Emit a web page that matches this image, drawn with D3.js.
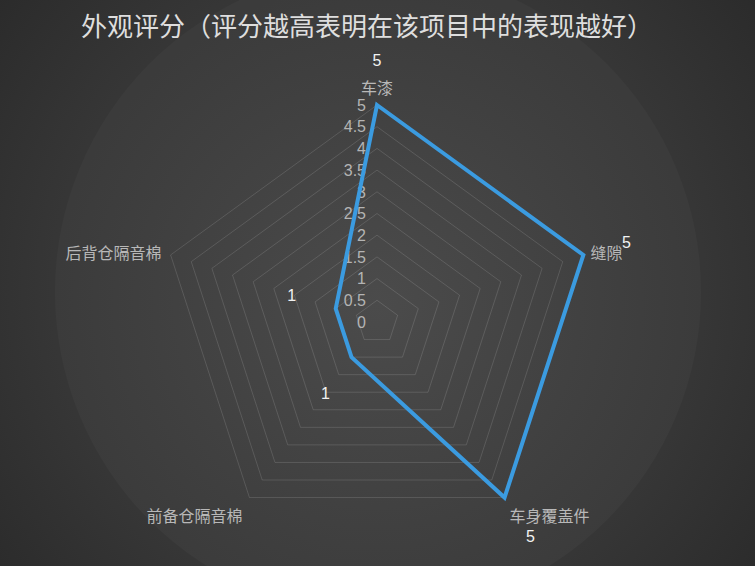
<!DOCTYPE html>
<html>
<head>
<meta charset="utf-8">
<script src="https://cdn.jsdelivr.net/npm/d3@7"></script>
<style>
    body { margin: 0; background: #2c2c2c; }
    svg { display: block; }
</style>
</head>
<body>
<div id="radar-plot"></div>
<script>
// chart data
const categories = ["车漆", "缝隙", "车身覆盖件", "前备仓隔音棉", "后背仓隔音棉"];
const scores = [5, 5, 5, 1, 1];
const tickValues = [0, 0.5, 1, 1.5, 2, 2.5, 3, 3.5, 4, 4.5, 5];
const tickLabels = ["0", "0.5", "1", "1.5", "2", "2.5", "3", "3.5", "4", "4.5", "5"];
const chartTitle = "外观评分（评分越高表明在该项目中的表现越好）";

// layout
const width = 755, height = 566;
const center = { x: 377, y: 322 };
const radius = 217;

// label placement per axis: [dx, dy, anchor] for category name and for the value
const nameOffsets = [[0, -17, "middle"], [7, -2, "start"], [5, 19, "start"], [-7, 19, "end"], [-9, -2, "end"]];
const valueOffsets = [[0, -45], [43, -13], [26, 39], [-26, 36], [-44, -13]];

let svg = d3.select("#radar-plot")
    .append("svg")
    .attr("width", width)
    .attr("height", height);

// background gradients
let defs = svg.append("defs");
let bgGrad = defs.append("radialGradient")
    .attr("id", "bg-grad")
    .attr("gradientUnits", "userSpaceOnUse")
    .attr("cx", 378).attr("cy", 290).attr("r", 480);
bgGrad.append("stop").attr("offset", "0%").attr("stop-color", "#3e3e3e");
bgGrad.append("stop").attr("offset", "68%").attr("stop-color", "#363636");
bgGrad.append("stop").attr("offset", "100%").attr("stop-color", "#2b2b2b");

let discGrad = defs.append("radialGradient")
    .attr("id", "disc-grad")
    .attr("gradientUnits", "userSpaceOnUse")
    .attr("cx", 378).attr("cy", 305).attr("r", 323);
discGrad.append("stop").attr("offset", "0%").attr("stop-color", "#4b4b4b");
discGrad.append("stop").attr("offset", "100%").attr("stop-color", "#3b3b3b");

svg.append("rect")
    .attr("width", width)
    .attr("height", height)
    .attr("fill", "url(#bg-grad)");

svg.append("circle")
    .attr("cx", 378)
    .attr("cy", 292)
    .attr("r", 323)
    .attr("fill", "url(#disc-grad)");

let g = svg.append("g")
    .attr("transform", `translate(${center.x}, ${center.y})`);

// scales: value -> radius, category -> angle
let rScale = d3.scaleLinear()
    .domain([0, 5])
    .range([0, radius]);

let angle = d3.scalePoint()
    .domain(categories)
    .range([0, 2 * Math.PI * (categories.length - 1) / categories.length]);

function point(cat, value) {
    let a = angle(cat) - Math.PI / 2;
    return [rScale(value) * Math.cos(a), rScale(value) * Math.sin(a)];
}

// grid pentagons
let gridLine = d3.line().curve(d3.curveLinearClosed);
g.selectAll(".grid")
    .data(tickValues.filter(v => v > 0))
    .enter()
    .append("path")
    .attr("class", "grid")
    .attr("d", v => gridLine(categories.map(c => point(c, v))))
    .attr("fill", "none")
    .attr("stroke", "rgba(255,255,255,0.13)")
    .attr("stroke-width", 1);

// tick labels along the first axis
g.selectAll(".tick-label")
    .data(tickValues)
    .enter()
    .append("text")
    .attr("class", "tick-label")
    .attr("x", -11)
    .attr("y", v => -rScale(v))
    .attr("dy", "0.36em")
    .style("text-anchor", "end")
    .style("font-family", "Liberation Sans, Arial, sans-serif")
    .style("font-size", "16px")
    .attr("fill", "#b4b4b4")
    .text((v, i) => tickLabels[i]);

// data polygon
g.append("path")
    .attr("d", gridLine(categories.map((c, i) => point(c, scores[i]))))
    .attr("fill", "none")
    .attr("stroke", "#3b9be0")
    .attr("stroke-width", 4)
    .attr("stroke-linejoin", "miter");

// category names
g.selectAll(".cat-label")
    .data(categories)
    .enter()
    .append("text")
    .attr("class", "cat-label")
    .attr("x", (c, i) => point(c, 5)[0] + nameOffsets[i][0])
    .attr("y", (c, i) => point(c, 5)[1] + nameOffsets[i][1])
    .attr("dy", "0.36em")
    .style("text-anchor", (c, i) => nameOffsets[i][2])
    .style("font-family", "Noto Sans CJK SC, sans-serif")
    .style("font-size", "16px")
    .attr("fill", "#b8b8b8")
    .text(c => c);

// value labels
g.selectAll(".value-label")
    .data(categories)
    .enter()
    .append("text")
    .attr("class", "value-label")
    .attr("x", (c, i) => point(c, scores[i])[0] + valueOffsets[i][0])
    .attr("y", (c, i) => point(c, scores[i])[1] + valueOffsets[i][1])
    .attr("dy", "0.36em")
    .style("text-anchor", "middle")
    .style("font-family", "Liberation Sans, Arial, sans-serif")
    .style("font-size", "16px")
    .attr("fill", "#f2f2f2")
    .text((c, i) => scores[i]);

// chart title
svg.append("text")
    .attr("x", 367)
    .attr("y", 27)
    .attr("dy", "0.36em")
    .style("text-anchor", "middle")
    .style("font-family", "Noto Sans CJK SC, sans-serif")
    .style("font-size", "26px")
    .attr("fill", "#dedede")
    .text(chartTitle);
</script>
</body>
</html>
